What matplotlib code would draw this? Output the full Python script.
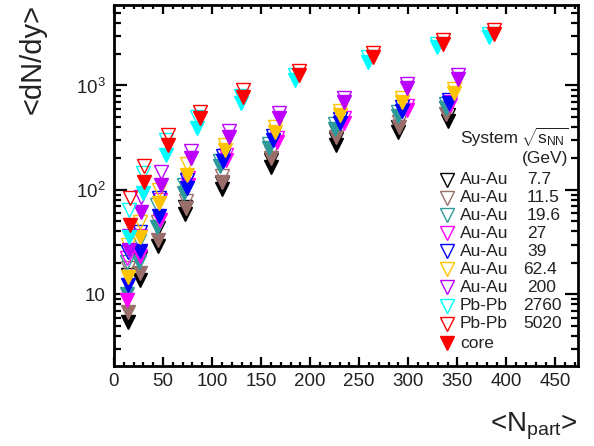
import matplotlib
matplotlib.use('Agg')
import matplotlib.pyplot as plt
from matplotlib.ticker import FixedLocator, FixedFormatter, NullFormatter, MultipleLocator

plt.rcParams['font.family'] = ['Liberation Sans', 'DejaVu Sans']
plt.rcParams['mathtext.fontset'] = 'custom'
plt.rcParams['mathtext.rm'] = 'Liberation Sans'
plt.rcParams['mathtext.it'] = 'Liberation Sans:italic'
plt.rcParams['mathtext.bf'] = 'Liberation Sans:bold'

# ---------------- data ----------------
systems = ['Au-Au', 'Au-Au', 'Au-Au', 'Au-Au', 'Au-Au', 'Au-Au', 'Au-Au', 'Pb-Pb', 'Pb-Pb']
energies = ['7.7', '11.5', '19.6', '27', '39', '62.4', '200', '2760', '5020']
colors = ['#000000', '#9a6e6a', '#2f9a9a', '#ff00ff', '#0000ff', '#ffc400', '#bb00ff', '#00ffff', '#ff0000']

npart_7p7 = [340, 290, 226, 160, 110, 72, 45, 26, 14]
total_7p7 = [524, 402, 309, 194, 117, 68.7, 43.2, 22.3, 15.3]
core_7p7 = [459, 360, 270, 167, 102, 58.9, 29.1, 13.7, 5.43]

npart_11p5 = [338, 291, 226, 160, 110, 73, 45, 26, 14]
total_11p5 = [611, 449, 368, 231, 136, 78.4, 49.4, 25.5, 17.9]
core_11p5 = [536, 402, 322, 203, 120, 67.2, 33.2, 16.0, 6.75]

npart_19p6 = [338, 289, 225, 158, 108, 71, 44, 25, 13]
total_19p6 = [667, 560, 429, 276, 190, 112, 71.8, 32.5, 20.4]
core_19p6 = [611, 513, 384, 253, 170, 93.6, 44.2, 20.4, 10.1]

npart_27 = [343, 299, 234, 166, 114, 75, 47, 27, 13]
total_27 = [698, 639, 490, 315, 217, 130, 80.2, 36.2, 22.3]
core_27 = [653, 585, 439, 288, 194, 112, 51.6, 23.3, 8.8]

npart_39 = [342, 294, 230, 162, 111, 74, 46, 26, 14]
total_39 = [730, 625, 479, 330, 212, 125, 83.8, 39.6, 25.5]
core_39 = [682, 572, 439, 302, 190, 105, 56.3, 26.0, 12.3]

npart_62p4 = [347, 294, 230, 164, 113, 74, 46, 26, 14]
total_62p4 = [930, 763, 572, 402, 270, 178, 100, 49.4, 29.7]
core_62p4 = [851, 698, 524, 360, 242, 139, 75.1, 35.5, 14.6]

npart_200 = [351, 299, 234, 168, 117, 78, 48, 28, 15]
total_200 = [1266, 1038, 763, 548, 368, 237, 149, 85.7, 36.2]
core_200 = [1159, 951, 698, 490, 322, 203, 112, 61.5, 26.6]

npart_2760 = [382, 329, 259, 185, 129, 85, 53, 30, 15]
total_2760 = [3130, 2510, 1880, 1270, 797, 500, 302, 146, 64.3]
core_2760 = [2930, 2350, 1690, 1135, 682, 393, 217, 93.6, 35.5]

npart_5020 = [387, 335, 264, 189, 132, 88, 55, 31, 16]
total_5020 = [3420, 2740, 2060, 1380, 910, 560, 337, 170, 84]
core_5020 = [3130, 2510, 1880, 1270, 780, 490, 270, 119, 46]

npart_all = [npart_7p7, npart_11p5, npart_19p6, npart_27, npart_39, npart_62p4, npart_200, npart_2760, npart_5020]
total_all = [total_7p7, total_11p5, total_19p6, total_27, total_39, total_62p4, total_200, total_2760, total_5020]
core_all = [core_7p7, core_11p5, core_19p6, core_27, core_39, core_62p4, core_200, core_2760, core_5020]

xticks = [0, 50, 100, 150, 200, 250, 300, 350, 400, 450]
yticks = [10, 100, 1000]
yticklabels = ['10', r'$\mathregular{10^{2}}$', r'$\mathregular{10^{3}}$']

# ---------------- figure ----------------
W, H = 594, 446
fig = plt.figure(figsize=(W / 100, H / 100), dpi=100)
L, R, T, B = 114, 578, 5, 366
ax = fig.add_axes([L / W, 1 - B / H, (R - L) / W, (B - T) / H])
ax.set_xlim(0, 473)
ax.set_yscale('log')
ax.set_ylim(2.06, 5900)

ms = 9.6
for x, tot, cor, c in zip(npart_all, total_all, core_all, colors):
    ax.plot(x, tot, ls='none', marker='v', ms=ms, mfc='none', mec=c, mew=1.0)
    ax.plot(x, cor, ls='none', marker='v', ms=ms, mfc=c, mec=c, mew=1.0)

for s in ax.spines.values():
    s.set_linewidth(2.0)

ax.xaxis.set_major_locator(FixedLocator(xticks))
ax.xaxis.set_major_formatter(FixedFormatter([str(t) for t in xticks]))
ax.xaxis.set_minor_locator(MultipleLocator(10))
minor_y = [m * 10 ** e for e in range(0, 4) for m in range(2, 10)]
ax.yaxis.set_major_locator(FixedLocator(yticks))
ax.yaxis.set_major_formatter(FixedFormatter(yticklabels))
ax.yaxis.set_minor_locator(FixedLocator(minor_y))
ax.yaxis.set_minor_formatter(NullFormatter())

ax.tick_params(axis='both', which='both', direction='in', top=True, right=True, width=1.6,
               labelsize=13.5, colors='black')
ax.tick_params(axis='x', which='major', length=6.5, pad=5)
ax.tick_params(axis='x', which='minor', length=3)
ax.tick_params(axis='y', which='major', length=9.5, pad=6)
ax.tick_params(axis='y', which='minor', length=5)
for lab in ax.get_xticklabels() + ax.get_yticklabels():
    lab.set_color('#222222')

# axis titles
fig.text(33 / W, 1 - 4 / H, '<dN/dy>', rotation=90, ha='center', va='top', fontsize=21, color='#222222')
fig.text(R / W, 1 - 431 / H, r'<N$_{\mathregular{part}}$>', ha='right', va='baseline', fontsize=20,
         color='#222222')

# legend (manual, ROOT-like)
def ax_xy(px, py):
    return (px - L) / (R - L), (B - py) / (B - T)

fs = 12.5
tx, ty = ax_xy(460, 139)
ax.text(tx, ty, 'System', transform=ax.transAxes, ha='left', va='center', fontsize=fs, color='#222222')
tx, ty = ax_xy(521, 137)
ax.text(tx, ty, r'$\sqrt{\mathregular{s}_{\mathregular{NN}}}$', transform=ax.transAxes, ha='left',
        va='center', fontsize=fs, color='#222222')
tx, ty = ax_xy(545, 158)
ax.text(tx, ty, '(GeV)', transform=ax.transAxes, ha='center', va='center', fontsize=fs, color='#222222')

rows = [180, 198, 215, 233, 251, 269, 287, 306, 324]
val_x = [527, 527, 527, 527, 527, 523, 527, 523, 523]
for i, (sysname, en, c) in enumerate(zip(systems, energies, colors)):
    mx, my = ax_xy(447, rows[i])
    ax.plot([mx], [my], transform=ax.transAxes, ls='none', marker='v', ms=ms, mfc='none', mec=c,
            mew=1.0, clip_on=False)
    tx, _ = ax_xy(460, rows[i])
    ax.text(tx, my, sysname, transform=ax.transAxes, ha='left', va='center', fontsize=fs, color='#222222')
    vx, _ = ax_xy(val_x[i], rows[i])
    ax.text(vx, my, en, transform=ax.transAxes, ha='left', va='center', fontsize=fs, color='#222222')
mx, my = ax_xy(447, 343)
ax.plot([mx], [my], transform=ax.transAxes, ls='none', marker='v', ms=ms, mfc='#ff0000', mec='#ff0000',
        mew=1.0, clip_on=False)
tx, _ = ax_xy(460, 343)
ax.text(tx, my, 'core', transform=ax.transAxes, ha='left', va='center', fontsize=fs, color='#222222')

fig.savefig('out.png', dpi=100)
